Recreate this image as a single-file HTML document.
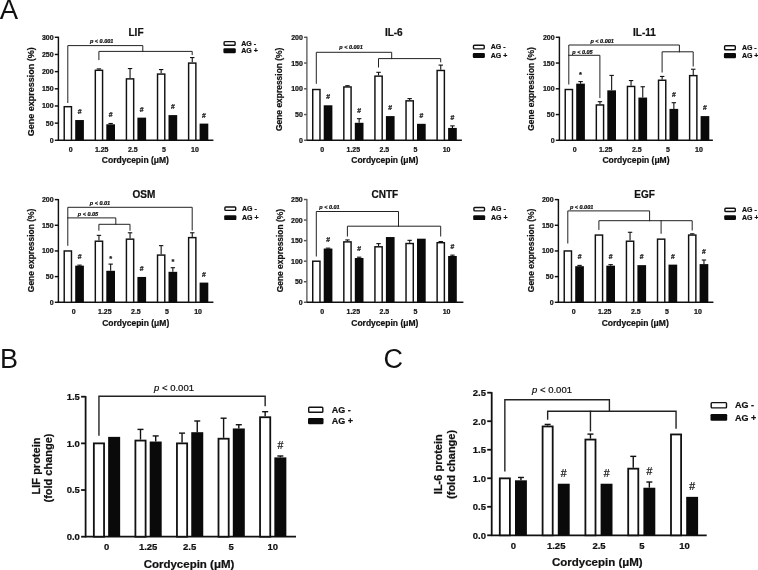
<!DOCTYPE html>
<html><head><meta charset="utf-8"><style>
html,body{margin:0;padding:0;background:#fff;}
body{width:758px;height:570px;overflow:hidden;}
svg{display:block;font-family:"Liberation Sans", sans-serif;will-change:transform;}
text{stroke:#111;stroke-width:0.22px;}
text.nos{stroke:none;}
</style></head><body>
<svg width="758" height="570" viewBox="0 0 758 570">
<rect width="758" height="570" fill="#fff"/>
<line x1="58.4" y1="36.7" x2="58.4" y2="140.9" stroke="#111" stroke-width="1.45"/>
<line x1="57.8" y1="140.3" x2="213.4" y2="140.3" stroke="#111" stroke-width="1.45"/>
<line x1="54.8" y1="140.3" x2="58.4" y2="140.3" stroke="#111" stroke-width="1.45"/>
<text x="53.6" y="142.82" font-size="7" font-weight="bold" text-anchor="end" fill="#111">0</text>
<line x1="54.8" y1="123.13" x2="58.4" y2="123.13" stroke="#111" stroke-width="1.45"/>
<text x="53.6" y="125.65" font-size="7" font-weight="bold" text-anchor="end" fill="#111">50</text>
<line x1="54.8" y1="105.97" x2="58.4" y2="105.97" stroke="#111" stroke-width="1.45"/>
<text x="53.6" y="108.49" font-size="7" font-weight="bold" text-anchor="end" fill="#111">100</text>
<line x1="54.8" y1="88.8" x2="58.4" y2="88.8" stroke="#111" stroke-width="1.45"/>
<text x="53.6" y="91.32" font-size="7" font-weight="bold" text-anchor="end" fill="#111">150</text>
<line x1="54.8" y1="71.63" x2="58.4" y2="71.63" stroke="#111" stroke-width="1.45"/>
<text x="53.6" y="74.15" font-size="7" font-weight="bold" text-anchor="end" fill="#111">200</text>
<line x1="54.8" y1="54.47" x2="58.4" y2="54.47" stroke="#111" stroke-width="1.45"/>
<text x="53.6" y="56.99" font-size="7" font-weight="bold" text-anchor="end" fill="#111">250</text>
<line x1="54.8" y1="37.3" x2="58.4" y2="37.3" stroke="#111" stroke-width="1.45"/>
<text x="53.6" y="39.82" font-size="7" font-weight="bold" text-anchor="end" fill="#111">300</text>
<rect x="64.22" y="106.69" width="7.25" height="33.61" fill="#fff" stroke="#111" stroke-width="1.45"/>
<rect x="75.2" y="120.04" width="8.7" height="20.26" fill="#0a0a0a"/>
<text x="79.55" y="114.04" font-size="6.8" font-weight="bold" text-anchor="middle" fill="#111">#</text>
<text x="70.6" y="152" font-size="7" font-weight="bold" text-anchor="middle" fill="#111">0</text>
<rect x="95.32" y="70.3" width="7.25" height="70" fill="#fff" stroke="#111" stroke-width="1.45"/>
<line x1="98.95" y1="68.89" x2="98.95" y2="69.57" stroke="#111" stroke-width="1.1"/>
<line x1="96.75" y1="68.89" x2="101.15" y2="68.89" stroke="#111" stroke-width="1.1"/>
<rect x="106.3" y="124.3" width="8.7" height="16" fill="#0a0a0a"/>
<line x1="110.65" y1="123.48" x2="110.65" y2="124.3" stroke="#111" stroke-width="1.1"/>
<line x1="108.45" y1="123.48" x2="112.85" y2="123.48" stroke="#111" stroke-width="1.1"/>
<text x="110.65" y="117.48" font-size="6.8" font-weight="bold" text-anchor="middle" fill="#111">#</text>
<text x="101.7" y="152" font-size="7" font-weight="bold" text-anchor="middle" fill="#111">1.25</text>
<rect x="126.42" y="78.88" width="7.25" height="61.42" fill="#fff" stroke="#111" stroke-width="1.45"/>
<line x1="130.05" y1="68.54" x2="130.05" y2="78.16" stroke="#111" stroke-width="1.1"/>
<line x1="127.85" y1="68.54" x2="132.25" y2="68.54" stroke="#111" stroke-width="1.1"/>
<rect x="137.4" y="117.64" width="8.7" height="22.66" fill="#0a0a0a"/>
<text x="141.75" y="111.64" font-size="6.8" font-weight="bold" text-anchor="middle" fill="#111">#</text>
<text x="132.8" y="152" font-size="7" font-weight="bold" text-anchor="middle" fill="#111">2.5</text>
<rect x="157.53" y="74.08" width="7.25" height="66.23" fill="#fff" stroke="#111" stroke-width="1.45"/>
<line x1="161.15" y1="69.57" x2="161.15" y2="73.35" stroke="#111" stroke-width="1.1"/>
<line x1="158.95" y1="69.57" x2="163.35" y2="69.57" stroke="#111" stroke-width="1.1"/>
<rect x="168.5" y="115.1" width="8.7" height="25.2" fill="#0a0a0a"/>
<text x="172.85" y="109.1" font-size="6.8" font-weight="bold" text-anchor="middle" fill="#111">#</text>
<text x="163.9" y="152" font-size="7" font-weight="bold" text-anchor="middle" fill="#111">5</text>
<rect x="188.62" y="63.09" width="7.25" height="77.21" fill="#fff" stroke="#111" stroke-width="1.45"/>
<line x1="192.25" y1="57.56" x2="192.25" y2="62.36" stroke="#111" stroke-width="1.1"/>
<line x1="190.05" y1="57.56" x2="194.45" y2="57.56" stroke="#111" stroke-width="1.1"/>
<rect x="199.6" y="123.61" width="8.7" height="16.69" fill="#0a0a0a"/>
<text x="203.95" y="117.61" font-size="6.8" font-weight="bold" text-anchor="middle" fill="#111">#</text>
<text x="195" y="152" font-size="7" font-weight="bold" text-anchor="middle" fill="#111">10</text>
<polyline points="67.8,102.5 67.8,45.6 142.8,45.6 142.8,51.4" fill="none" stroke="#222" stroke-width="1.0" stroke-linejoin="miter" stroke-linecap="square"/>
<polyline points="98.9,59.6 98.9,51.4 192.2,51.4 192.2,54.6" fill="none" stroke="#222" stroke-width="1.0" stroke-linejoin="miter" stroke-linecap="square"/>
<text x="101.7" y="42.6" font-size="5.5" font-weight="bold" font-style="italic" text-anchor="middle" fill="#111">p &lt; 0.001</text>
<text x="136" y="36.1" font-size="10" font-weight="bold" text-anchor="middle" fill="#111">LIF</text>
<text x="135.4" y="163.2" font-size="8.5" font-weight="bold" text-anchor="middle" fill="#111">Cordycepin (μM)</text>
<text x="34" y="91.8" font-size="9" font-weight="bold" text-anchor="middle" fill="#111" transform="rotate(-90 34 91.8)">Gene expression (%)</text>
<rect x="224.1" y="41.6" width="11" height="3.6" rx="0.8" fill="#fff" stroke="#111" stroke-width="1.4"/>
<rect x="223.4" y="48.3" width="12.4" height="5" rx="1.2" fill="#0a0a0a"/>
<text x="241.3" y="45.7" font-size="7" font-weight="bold" text-anchor="start" fill="#111">AG -</text>
<text x="241.3" y="53.1" font-size="7" font-weight="bold" text-anchor="start" fill="#111">AG +</text>
<line x1="306.9" y1="36.7" x2="306.9" y2="140.9" stroke="#555" stroke-width="1.3"/>
<line x1="306.3" y1="140.3" x2="461.9" y2="140.3" stroke="#111" stroke-width="1.45"/>
<line x1="304.1" y1="140.3" x2="306.9" y2="140.3" stroke="#555" stroke-width="1.45"/>
<text x="302.9" y="142.82" font-size="7" font-weight="bold" text-anchor="end" fill="#111">0</text>
<line x1="304.1" y1="114.55" x2="306.9" y2="114.55" stroke="#555" stroke-width="1.45"/>
<text x="302.9" y="117.07" font-size="7" font-weight="bold" text-anchor="end" fill="#111">50</text>
<line x1="304.1" y1="88.8" x2="306.9" y2="88.8" stroke="#555" stroke-width="1.45"/>
<text x="302.9" y="91.32" font-size="7" font-weight="bold" text-anchor="end" fill="#111">100</text>
<line x1="304.1" y1="63.05" x2="306.9" y2="63.05" stroke="#555" stroke-width="1.45"/>
<text x="302.9" y="65.57" font-size="7" font-weight="bold" text-anchor="end" fill="#111">150</text>
<line x1="304.1" y1="37.3" x2="306.9" y2="37.3" stroke="#555" stroke-width="1.45"/>
<text x="302.9" y="39.82" font-size="7" font-weight="bold" text-anchor="end" fill="#111">200</text>
<rect x="312.73" y="89.52" width="7.25" height="50.78" fill="#fff" stroke="#111" stroke-width="1.45"/>
<rect x="323.7" y="105.28" width="8.7" height="35.02" fill="#0a0a0a"/>
<text x="328.05" y="99.28" font-size="6.8" font-weight="bold" text-anchor="middle" fill="#111">#</text>
<text x="322.2" y="152" font-size="7" font-weight="bold" text-anchor="middle" fill="#111">0</text>
<rect x="343.83" y="86.95" width="7.25" height="53.35" fill="#fff" stroke="#111" stroke-width="1.45"/>
<line x1="347.45" y1="85.71" x2="347.45" y2="86.22" stroke="#111" stroke-width="1.1"/>
<line x1="345.25" y1="85.71" x2="349.65" y2="85.71" stroke="#111" stroke-width="1.1"/>
<rect x="354.8" y="122.79" width="8.7" height="17.51" fill="#0a0a0a"/>
<line x1="359.15" y1="118.67" x2="359.15" y2="122.79" stroke="#111" stroke-width="1.1"/>
<line x1="356.95" y1="118.67" x2="361.35" y2="118.67" stroke="#111" stroke-width="1.1"/>
<text x="359.15" y="112.67" font-size="6.8" font-weight="bold" text-anchor="middle" fill="#111">#</text>
<text x="353.3" y="152" font-size="7" font-weight="bold" text-anchor="middle" fill="#111">1.25</text>
<rect x="374.93" y="76.13" width="7.25" height="64.17" fill="#fff" stroke="#111" stroke-width="1.45"/>
<line x1="378.55" y1="72.32" x2="378.55" y2="75.41" stroke="#111" stroke-width="1.1"/>
<line x1="376.35" y1="72.32" x2="380.75" y2="72.32" stroke="#111" stroke-width="1.1"/>
<rect x="385.9" y="116.09" width="8.7" height="24.21" fill="#0a0a0a"/>
<text x="390.25" y="110.09" font-size="6.8" font-weight="bold" text-anchor="middle" fill="#111">#</text>
<text x="384.4" y="152" font-size="7" font-weight="bold" text-anchor="middle" fill="#111">2.5</text>
<rect x="406.03" y="100.85" width="7.25" height="39.45" fill="#fff" stroke="#111" stroke-width="1.45"/>
<line x1="409.65" y1="98.59" x2="409.65" y2="100.13" stroke="#111" stroke-width="1.1"/>
<line x1="407.45" y1="98.59" x2="411.85" y2="98.59" stroke="#111" stroke-width="1.1"/>
<rect x="417" y="123.82" width="8.7" height="16.48" fill="#0a0a0a"/>
<text x="421.35" y="117.82" font-size="6.8" font-weight="bold" text-anchor="middle" fill="#111">#</text>
<text x="415.5" y="152" font-size="7" font-weight="bold" text-anchor="middle" fill="#111">5</text>
<rect x="437.12" y="70.47" width="7.25" height="69.83" fill="#fff" stroke="#111" stroke-width="1.45"/>
<line x1="440.75" y1="65.11" x2="440.75" y2="69.74" stroke="#111" stroke-width="1.1"/>
<line x1="438.55" y1="65.11" x2="442.95" y2="65.11" stroke="#111" stroke-width="1.1"/>
<rect x="448.1" y="127.94" width="8.7" height="12.36" fill="#0a0a0a"/>
<line x1="452.45" y1="125.88" x2="452.45" y2="127.94" stroke="#111" stroke-width="1.1"/>
<line x1="450.25" y1="125.88" x2="454.65" y2="125.88" stroke="#111" stroke-width="1.1"/>
<text x="452.45" y="119.88" font-size="6.8" font-weight="bold" text-anchor="middle" fill="#111">#</text>
<text x="446.6" y="152" font-size="7" font-weight="bold" text-anchor="middle" fill="#111">10</text>
<polyline points="316.3,83.3 316.3,52.3 391.7,52.3 391.7,58.6" fill="none" stroke="#222" stroke-width="1.0" stroke-linejoin="miter" stroke-linecap="square"/>
<polyline points="378.5,67 378.5,58.6 440.7,58.6 440.7,61.8" fill="none" stroke="#222" stroke-width="1.0" stroke-linejoin="miter" stroke-linecap="square"/>
<text x="351" y="49.3" font-size="5.5" font-weight="bold" font-style="italic" text-anchor="middle" fill="#111">p &lt; 0.001</text>
<text x="393.8" y="36.1" font-size="10" font-weight="bold" text-anchor="middle" fill="#111">IL-6</text>
<text x="384.8" y="163.2" font-size="8.5" font-weight="bold" text-anchor="middle" fill="#111">Cordycepin (μM)</text>
<text x="281.7" y="89.3" font-size="8.45" font-weight="bold" text-anchor="middle" fill="#111" transform="rotate(-90 281.7 89.3)">Gene expression (%)</text>
<rect x="473.5" y="45.2" width="10.7" height="3.7" rx="0.8" fill="#fff" stroke="#111" stroke-width="1.4"/>
<rect x="472.8" y="52.9" width="12.1" height="5.1" rx="1.2" fill="#0a0a0a"/>
<text x="490.7" y="49.4" font-size="7" font-weight="bold" text-anchor="start" fill="#111">AG -</text>
<text x="490.7" y="57.8" font-size="7" font-weight="bold" text-anchor="start" fill="#111">AG +</text>
<line x1="559.4" y1="36.7" x2="559.4" y2="140.9" stroke="#111" stroke-width="1.45"/>
<line x1="558.8" y1="140.3" x2="712.9" y2="140.3" stroke="#111" stroke-width="1.45"/>
<line x1="555.8" y1="140.3" x2="559.4" y2="140.3" stroke="#111" stroke-width="1.45"/>
<text x="554.6" y="142.82" font-size="7" font-weight="bold" text-anchor="end" fill="#111">0</text>
<line x1="555.8" y1="114.55" x2="559.4" y2="114.55" stroke="#111" stroke-width="1.45"/>
<text x="554.6" y="117.07" font-size="7" font-weight="bold" text-anchor="end" fill="#111">50</text>
<line x1="555.8" y1="88.8" x2="559.4" y2="88.8" stroke="#111" stroke-width="1.45"/>
<text x="554.6" y="91.32" font-size="7" font-weight="bold" text-anchor="end" fill="#111">100</text>
<line x1="555.8" y1="63.05" x2="559.4" y2="63.05" stroke="#111" stroke-width="1.45"/>
<text x="554.6" y="65.57" font-size="7" font-weight="bold" text-anchor="end" fill="#111">150</text>
<line x1="555.8" y1="37.3" x2="559.4" y2="37.3" stroke="#111" stroke-width="1.45"/>
<text x="554.6" y="39.82" font-size="7" font-weight="bold" text-anchor="end" fill="#111">200</text>
<rect x="565.23" y="89.52" width="7.25" height="50.78" fill="#fff" stroke="#111" stroke-width="1.45"/>
<rect x="576.2" y="83.65" width="8.7" height="56.65" fill="#0a0a0a"/>
<line x1="580.55" y1="81.59" x2="580.55" y2="83.65" stroke="#111" stroke-width="1.1"/>
<line x1="578.35" y1="81.59" x2="582.75" y2="81.59" stroke="#111" stroke-width="1.1"/>
<text x="580.55" y="77.09" font-size="7.5" font-weight="bold" text-anchor="middle" fill="#111">*</text>
<text x="574.6" y="152" font-size="7" font-weight="bold" text-anchor="middle" fill="#111">0</text>
<rect x="596.33" y="104.97" width="7.25" height="35.33" fill="#fff" stroke="#111" stroke-width="1.45"/>
<line x1="599.95" y1="101.68" x2="599.95" y2="104.25" stroke="#111" stroke-width="1.1"/>
<line x1="597.75" y1="101.68" x2="602.15" y2="101.68" stroke="#111" stroke-width="1.1"/>
<rect x="607.3" y="90.34" width="8.7" height="49.96" fill="#0a0a0a"/>
<line x1="611.65" y1="75.41" x2="611.65" y2="90.34" stroke="#111" stroke-width="1.1"/>
<line x1="609.45" y1="75.41" x2="613.85" y2="75.41" stroke="#111" stroke-width="1.1"/>
<text x="605.7" y="152" font-size="7" font-weight="bold" text-anchor="middle" fill="#111">1.25</text>
<rect x="627.43" y="86.44" width="7.25" height="53.87" fill="#fff" stroke="#111" stroke-width="1.45"/>
<line x1="631.05" y1="80.56" x2="631.05" y2="85.71" stroke="#111" stroke-width="1.1"/>
<line x1="628.85" y1="80.56" x2="633.25" y2="80.56" stroke="#111" stroke-width="1.1"/>
<rect x="638.4" y="97.56" width="8.7" height="42.75" fill="#0a0a0a"/>
<line x1="642.75" y1="86.74" x2="642.75" y2="97.56" stroke="#111" stroke-width="1.1"/>
<line x1="640.55" y1="86.74" x2="644.95" y2="86.74" stroke="#111" stroke-width="1.1"/>
<text x="636.8" y="152" font-size="7" font-weight="bold" text-anchor="middle" fill="#111">2.5</text>
<rect x="658.52" y="80.25" width="7.25" height="60.05" fill="#fff" stroke="#111" stroke-width="1.45"/>
<line x1="662.15" y1="76.44" x2="662.15" y2="79.53" stroke="#111" stroke-width="1.1"/>
<line x1="659.95" y1="76.44" x2="664.35" y2="76.44" stroke="#111" stroke-width="1.1"/>
<rect x="669.5" y="108.89" width="8.7" height="31.42" fill="#0a0a0a"/>
<line x1="673.85" y1="102.71" x2="673.85" y2="108.89" stroke="#111" stroke-width="1.1"/>
<line x1="671.65" y1="102.71" x2="676.05" y2="102.71" stroke="#111" stroke-width="1.1"/>
<text x="673.85" y="96.71" font-size="6.8" font-weight="bold" text-anchor="middle" fill="#111">#</text>
<text x="667.9" y="152" font-size="7" font-weight="bold" text-anchor="middle" fill="#111">5</text>
<rect x="689.62" y="75.62" width="7.25" height="64.68" fill="#fff" stroke="#111" stroke-width="1.45"/>
<line x1="693.25" y1="69.23" x2="693.25" y2="74.89" stroke="#111" stroke-width="1.1"/>
<line x1="691.05" y1="69.23" x2="695.45" y2="69.23" stroke="#111" stroke-width="1.1"/>
<rect x="700.6" y="116.09" width="8.7" height="24.21" fill="#0a0a0a"/>
<text x="704.95" y="110.09" font-size="6.8" font-weight="bold" text-anchor="middle" fill="#111">#</text>
<text x="699" y="152" font-size="7" font-weight="bold" text-anchor="middle" fill="#111">10</text>
<polyline points="568.8,84 568.8,45 679.4,45 679.4,51.8" fill="none" stroke="#222" stroke-width="1.0" stroke-linejoin="miter" stroke-linecap="square"/>
<polyline points="662.1,72 662.1,51.8 693.2,51.8 693.2,66" fill="none" stroke="#222" stroke-width="1.0" stroke-linejoin="miter" stroke-linecap="square"/>
<polyline points="568.8,55.3 599.9,55.3 599.9,97.6" fill="none" stroke="#222" stroke-width="1.0" stroke-linejoin="miter" stroke-linecap="square"/>
<text x="602.2" y="43.3" font-size="5.5" font-weight="bold" font-style="italic" text-anchor="middle" fill="#111">p &lt; 0.001</text>
<text x="582.5" y="53.6" font-size="5.5" font-weight="bold" font-style="italic" text-anchor="middle" fill="#111">p &lt; 0.05</text>
<text x="644.5" y="36.1" font-size="10" font-weight="bold" text-anchor="middle" fill="#111">IL-11</text>
<text x="636" y="163.2" font-size="8.5" font-weight="bold" text-anchor="middle" fill="#111">Cordycepin (μM)</text>
<text x="534" y="89" font-size="8.45" font-weight="bold" text-anchor="middle" fill="#111" transform="rotate(-90 534 89)">Gene expression (%)</text>
<rect x="724.6" y="45.8" width="10.7" height="3.9" rx="0.8" fill="#fff" stroke="#111" stroke-width="1.4"/>
<rect x="723.9" y="52.9" width="12.1" height="5.3" rx="1.2" fill="#0a0a0a"/>
<text x="741.9" y="50.2" font-size="7" font-weight="bold" text-anchor="start" fill="#111">AG -</text>
<text x="741.9" y="58" font-size="7" font-weight="bold" text-anchor="start" fill="#111">AG +</text>
<line x1="58.4" y1="199" x2="58.4" y2="302.9" stroke="#111" stroke-width="1.45"/>
<line x1="57.8" y1="302.3" x2="213.4" y2="302.3" stroke="#111" stroke-width="1.45"/>
<line x1="54.8" y1="302.3" x2="58.4" y2="302.3" stroke="#111" stroke-width="1.45"/>
<text x="53.6" y="304.82" font-size="7" font-weight="bold" text-anchor="end" fill="#111">0</text>
<line x1="54.8" y1="276.62" x2="58.4" y2="276.62" stroke="#111" stroke-width="1.45"/>
<text x="53.6" y="279.14" font-size="7" font-weight="bold" text-anchor="end" fill="#111">50</text>
<line x1="54.8" y1="250.95" x2="58.4" y2="250.95" stroke="#111" stroke-width="1.45"/>
<text x="53.6" y="253.47" font-size="7" font-weight="bold" text-anchor="end" fill="#111">100</text>
<line x1="54.8" y1="225.28" x2="58.4" y2="225.28" stroke="#111" stroke-width="1.45"/>
<text x="53.6" y="227.8" font-size="7" font-weight="bold" text-anchor="end" fill="#111">150</text>
<line x1="54.8" y1="199.6" x2="58.4" y2="199.6" stroke="#111" stroke-width="1.45"/>
<text x="53.6" y="202.12" font-size="7" font-weight="bold" text-anchor="end" fill="#111">200</text>
<rect x="64.22" y="250.97" width="7.25" height="51.33" fill="#fff" stroke="#111" stroke-width="1.45"/>
<rect x="75.2" y="265.66" width="8.7" height="36.64" fill="#0a0a0a"/>
<line x1="79.55" y1="265.14" x2="79.55" y2="265.66" stroke="#111" stroke-width="1.1"/>
<line x1="77.35" y1="265.14" x2="81.75" y2="265.14" stroke="#111" stroke-width="1.1"/>
<text x="79.55" y="259.14" font-size="6.8" font-weight="bold" text-anchor="middle" fill="#111">#</text>
<text x="73.7" y="313.5" font-size="7" font-weight="bold" text-anchor="middle" fill="#111">0</text>
<rect x="95.32" y="241.22" width="7.25" height="61.08" fill="#fff" stroke="#111" stroke-width="1.45"/>
<line x1="98.95" y1="235.36" x2="98.95" y2="240.49" stroke="#111" stroke-width="1.1"/>
<line x1="96.75" y1="235.36" x2="101.15" y2="235.36" stroke="#111" stroke-width="1.1"/>
<rect x="106.3" y="270.79" width="8.7" height="31.51" fill="#0a0a0a"/>
<line x1="110.65" y1="264.11" x2="110.65" y2="270.79" stroke="#111" stroke-width="1.1"/>
<line x1="108.45" y1="264.11" x2="112.85" y2="264.11" stroke="#111" stroke-width="1.1"/>
<text x="110.65" y="260.61" font-size="7.5" font-weight="bold" text-anchor="middle" fill="#111">*</text>
<text x="104.8" y="313.5" font-size="7" font-weight="bold" text-anchor="middle" fill="#111">1.25</text>
<rect x="126.42" y="239.16" width="7.25" height="63.14" fill="#fff" stroke="#111" stroke-width="1.45"/>
<line x1="130.05" y1="232.79" x2="130.05" y2="238.44" stroke="#111" stroke-width="1.1"/>
<line x1="127.85" y1="232.79" x2="132.25" y2="232.79" stroke="#111" stroke-width="1.1"/>
<rect x="137.4" y="276.95" width="8.7" height="25.35" fill="#0a0a0a"/>
<text x="141.75" y="270.95" font-size="6.8" font-weight="bold" text-anchor="middle" fill="#111">#</text>
<text x="135.9" y="313.5" font-size="7" font-weight="bold" text-anchor="middle" fill="#111">2.5</text>
<rect x="157.53" y="255.08" width="7.25" height="47.22" fill="#fff" stroke="#111" stroke-width="1.45"/>
<line x1="161.15" y1="245.63" x2="161.15" y2="254.36" stroke="#111" stroke-width="1.1"/>
<line x1="158.95" y1="245.63" x2="163.35" y2="245.63" stroke="#111" stroke-width="1.1"/>
<rect x="168.5" y="271.82" width="8.7" height="30.48" fill="#0a0a0a"/>
<line x1="172.85" y1="267.71" x2="172.85" y2="271.82" stroke="#111" stroke-width="1.1"/>
<line x1="170.65" y1="267.71" x2="175.05" y2="267.71" stroke="#111" stroke-width="1.1"/>
<text x="172.85" y="264.21" font-size="7.5" font-weight="bold" text-anchor="middle" fill="#111">*</text>
<text x="167" y="313.5" font-size="7" font-weight="bold" text-anchor="middle" fill="#111">5</text>
<rect x="188.62" y="237.62" width="7.25" height="64.68" fill="#fff" stroke="#111" stroke-width="1.45"/>
<line x1="192.25" y1="232.79" x2="192.25" y2="236.9" stroke="#111" stroke-width="1.1"/>
<line x1="190.05" y1="232.79" x2="194.45" y2="232.79" stroke="#111" stroke-width="1.1"/>
<rect x="199.6" y="282.6" width="8.7" height="19.7" fill="#0a0a0a"/>
<text x="203.95" y="276.6" font-size="6.8" font-weight="bold" text-anchor="middle" fill="#111">#</text>
<text x="198.1" y="313.5" font-size="7" font-weight="bold" text-anchor="middle" fill="#111">10</text>
<polyline points="67.8,245.3 67.8,207.3 192.2,207.3 192.2,230" fill="none" stroke="#222" stroke-width="1.0" stroke-linejoin="miter" stroke-linecap="square"/>
<polyline points="67.8,217.9 115.8,217.9 115.8,224.3" fill="none" stroke="#222" stroke-width="1.0" stroke-linejoin="miter" stroke-linecap="square"/>
<polyline points="98.9,230.2 98.9,224.3 130,224.3 130,230.2" fill="none" stroke="#222" stroke-width="1.0" stroke-linejoin="miter" stroke-linecap="square"/>
<text x="100" y="204.5" font-size="5.5" font-weight="bold" font-style="italic" text-anchor="middle" fill="#111">p &lt; 0.01</text>
<text x="88" y="216.2" font-size="5.5" font-weight="bold" font-style="italic" text-anchor="middle" fill="#111">p &lt; 0.05</text>
<text x="143.9" y="198" font-size="10" font-weight="bold" text-anchor="middle" fill="#111">OSM</text>
<text x="135.7" y="325.5" font-size="8.5" font-weight="bold" text-anchor="middle" fill="#111">Cordycepin (μM)</text>
<text x="34.2" y="250.4" font-size="8.45" font-weight="bold" text-anchor="middle" fill="#111" transform="rotate(-90 34.2 250.4)">Gene expression (%)</text>
<rect x="224.9" y="207" width="10.8" height="3.4" rx="0.8" fill="#fff" stroke="#111" stroke-width="1.4"/>
<rect x="224.2" y="215.3" width="12.2" height="4.8" rx="1.2" fill="#0a0a0a"/>
<text x="242" y="210.9" font-size="7" font-weight="bold" text-anchor="start" fill="#111">AG -</text>
<text x="242" y="219.9" font-size="7" font-weight="bold" text-anchor="start" fill="#111">AG +</text>
<line x1="306.9" y1="198.9" x2="306.9" y2="302.9" stroke="#555" stroke-width="1.3"/>
<line x1="306.3" y1="302.3" x2="463.4" y2="302.3" stroke="#111" stroke-width="1.45"/>
<line x1="303.9" y1="302.3" x2="306.9" y2="302.3" stroke="#555" stroke-width="1.45"/>
<text x="302.7" y="304.82" font-size="7" font-weight="bold" text-anchor="end" fill="#111">0</text>
<line x1="303.9" y1="281.74" x2="306.9" y2="281.74" stroke="#555" stroke-width="1.45"/>
<text x="302.7" y="284.26" font-size="7" font-weight="bold" text-anchor="end" fill="#111">50</text>
<line x1="303.9" y1="261.18" x2="306.9" y2="261.18" stroke="#555" stroke-width="1.45"/>
<text x="302.7" y="263.7" font-size="7" font-weight="bold" text-anchor="end" fill="#111">100</text>
<line x1="303.9" y1="240.62" x2="306.9" y2="240.62" stroke="#555" stroke-width="1.45"/>
<text x="302.7" y="243.14" font-size="7" font-weight="bold" text-anchor="end" fill="#111">150</text>
<line x1="303.9" y1="220.06" x2="306.9" y2="220.06" stroke="#555" stroke-width="1.45"/>
<text x="302.7" y="222.58" font-size="7" font-weight="bold" text-anchor="end" fill="#111">200</text>
<line x1="303.9" y1="199.5" x2="306.9" y2="199.5" stroke="#555" stroke-width="1.45"/>
<text x="302.7" y="202.02" font-size="7" font-weight="bold" text-anchor="end" fill="#111">250</text>
<rect x="312.73" y="261.21" width="7.25" height="41.09" fill="#fff" stroke="#111" stroke-width="1.45"/>
<rect x="323.7" y="248.56" width="8.7" height="53.74" fill="#0a0a0a"/>
<line x1="328.05" y1="248.14" x2="328.05" y2="248.56" stroke="#111" stroke-width="1.1"/>
<line x1="325.85" y1="248.14" x2="330.25" y2="248.14" stroke="#111" stroke-width="1.1"/>
<text x="328.05" y="242.14" font-size="6.8" font-weight="bold" text-anchor="middle" fill="#111">#</text>
<text x="322.2" y="313.5" font-size="7" font-weight="bold" text-anchor="middle" fill="#111">0</text>
<rect x="343.83" y="241.88" width="7.25" height="60.42" fill="#fff" stroke="#111" stroke-width="1.45"/>
<line x1="347.45" y1="239.92" x2="347.45" y2="241.15" stroke="#111" stroke-width="1.1"/>
<line x1="345.25" y1="239.92" x2="349.65" y2="239.92" stroke="#111" stroke-width="1.1"/>
<rect x="354.8" y="258.01" width="8.7" height="44.29" fill="#0a0a0a"/>
<line x1="359.15" y1="257.19" x2="359.15" y2="258.01" stroke="#111" stroke-width="1.1"/>
<line x1="356.95" y1="257.19" x2="361.35" y2="257.19" stroke="#111" stroke-width="1.1"/>
<text x="359.15" y="251.19" font-size="6.8" font-weight="bold" text-anchor="middle" fill="#111">#</text>
<text x="353.3" y="313.5" font-size="7" font-weight="bold" text-anchor="middle" fill="#111">1.25</text>
<rect x="374.93" y="246.81" width="7.25" height="55.49" fill="#fff" stroke="#111" stroke-width="1.45"/>
<line x1="378.55" y1="243.62" x2="378.55" y2="246.09" stroke="#111" stroke-width="1.1"/>
<line x1="376.35" y1="243.62" x2="380.75" y2="243.62" stroke="#111" stroke-width="1.1"/>
<rect x="385.9" y="237.04" width="8.7" height="65.26" fill="#0a0a0a"/>
<text x="384.4" y="313.5" font-size="7" font-weight="bold" text-anchor="middle" fill="#111">2.5</text>
<rect x="406.03" y="243.52" width="7.25" height="58.78" fill="#fff" stroke="#111" stroke-width="1.45"/>
<line x1="409.65" y1="240.33" x2="409.65" y2="242.8" stroke="#111" stroke-width="1.1"/>
<line x1="407.45" y1="240.33" x2="411.85" y2="240.33" stroke="#111" stroke-width="1.1"/>
<rect x="417" y="238.69" width="8.7" height="63.61" fill="#0a0a0a"/>
<text x="415.5" y="313.5" font-size="7" font-weight="bold" text-anchor="middle" fill="#111">5</text>
<rect x="437.12" y="242.7" width="7.25" height="59.6" fill="#fff" stroke="#111" stroke-width="1.45"/>
<line x1="440.75" y1="241.56" x2="440.75" y2="241.98" stroke="#111" stroke-width="1.1"/>
<line x1="438.55" y1="241.56" x2="442.95" y2="241.56" stroke="#111" stroke-width="1.1"/>
<rect x="448.1" y="255.96" width="8.7" height="46.34" fill="#0a0a0a"/>
<line x1="452.45" y1="255.13" x2="452.45" y2="255.96" stroke="#111" stroke-width="1.1"/>
<line x1="450.25" y1="255.13" x2="454.65" y2="255.13" stroke="#111" stroke-width="1.1"/>
<text x="452.45" y="249.13" font-size="6.8" font-weight="bold" text-anchor="middle" fill="#111">#</text>
<text x="446.6" y="313.5" font-size="7" font-weight="bold" text-anchor="middle" fill="#111">10</text>
<polyline points="316.3,256 316.3,211.5 398.5,211.5 398.5,226.2" fill="none" stroke="#222" stroke-width="1.0" stroke-linejoin="miter" stroke-linecap="square"/>
<polyline points="347.4,236 347.4,226.2 440.7,226.2 440.7,236" fill="none" stroke="#222" stroke-width="1.0" stroke-linejoin="miter" stroke-linecap="square"/>
<text x="329.5" y="208.5" font-size="5.5" font-weight="bold" font-style="italic" text-anchor="middle" fill="#111">p &lt; 0.01</text>
<text x="384.9" y="198" font-size="10" font-weight="bold" text-anchor="middle" fill="#111">CNTF</text>
<text x="384.8" y="326" font-size="8.5" font-weight="bold" text-anchor="middle" fill="#111">Cordycepin (μM)</text>
<text x="283" y="250.6" font-size="8.45" font-weight="bold" text-anchor="middle" fill="#111" transform="rotate(-90 283 250.6)">Gene expression (%)</text>
<rect x="473.9" y="207.5" width="10.6" height="3.4" rx="0.8" fill="#fff" stroke="#111" stroke-width="1.4"/>
<rect x="473.2" y="215.3" width="12" height="4.8" rx="1.2" fill="#0a0a0a"/>
<text x="491" y="211.4" font-size="7" font-weight="bold" text-anchor="start" fill="#111">AG -</text>
<text x="491" y="219.9" font-size="7" font-weight="bold" text-anchor="start" fill="#111">AG +</text>
<line x1="558.4" y1="199" x2="558.4" y2="302.9" stroke="#111" stroke-width="1.45"/>
<line x1="557.8" y1="302.3" x2="713.4" y2="302.3" stroke="#111" stroke-width="1.45"/>
<line x1="554.8" y1="302.3" x2="558.4" y2="302.3" stroke="#111" stroke-width="1.45"/>
<text x="553.6" y="304.82" font-size="7" font-weight="bold" text-anchor="end" fill="#111">0</text>
<line x1="554.8" y1="276.62" x2="558.4" y2="276.62" stroke="#111" stroke-width="1.45"/>
<text x="553.6" y="279.14" font-size="7" font-weight="bold" text-anchor="end" fill="#111">50</text>
<line x1="554.8" y1="250.95" x2="558.4" y2="250.95" stroke="#111" stroke-width="1.45"/>
<text x="553.6" y="253.47" font-size="7" font-weight="bold" text-anchor="end" fill="#111">100</text>
<line x1="554.8" y1="225.28" x2="558.4" y2="225.28" stroke="#111" stroke-width="1.45"/>
<text x="553.6" y="227.8" font-size="7" font-weight="bold" text-anchor="end" fill="#111">150</text>
<line x1="554.8" y1="199.6" x2="558.4" y2="199.6" stroke="#111" stroke-width="1.45"/>
<text x="553.6" y="202.12" font-size="7" font-weight="bold" text-anchor="end" fill="#111">200</text>
<rect x="564.23" y="250.97" width="7.25" height="51.33" fill="#fff" stroke="#111" stroke-width="1.45"/>
<rect x="575.2" y="266.17" width="8.7" height="36.13" fill="#0a0a0a"/>
<line x1="579.55" y1="265.4" x2="579.55" y2="266.17" stroke="#111" stroke-width="1.1"/>
<line x1="577.35" y1="265.4" x2="581.75" y2="265.4" stroke="#111" stroke-width="1.1"/>
<text x="579.55" y="259.4" font-size="6.8" font-weight="bold" text-anchor="middle" fill="#111">#</text>
<text x="573.6" y="313.5" font-size="7" font-weight="bold" text-anchor="middle" fill="#111">0</text>
<rect x="595.33" y="235.06" width="7.25" height="67.24" fill="#fff" stroke="#111" stroke-width="1.45"/>
<rect x="606.3" y="265.66" width="8.7" height="36.64" fill="#0a0a0a"/>
<line x1="610.65" y1="264.63" x2="610.65" y2="265.66" stroke="#111" stroke-width="1.1"/>
<line x1="608.45" y1="264.63" x2="612.85" y2="264.63" stroke="#111" stroke-width="1.1"/>
<text x="610.65" y="258.63" font-size="6.8" font-weight="bold" text-anchor="middle" fill="#111">#</text>
<text x="604.7" y="313.5" font-size="7" font-weight="bold" text-anchor="middle" fill="#111">1.25</text>
<rect x="626.43" y="241.22" width="7.25" height="61.08" fill="#fff" stroke="#111" stroke-width="1.45"/>
<line x1="630.05" y1="232.28" x2="630.05" y2="240.49" stroke="#111" stroke-width="1.1"/>
<line x1="627.85" y1="232.28" x2="632.25" y2="232.28" stroke="#111" stroke-width="1.1"/>
<rect x="637.4" y="265.14" width="8.7" height="37.16" fill="#0a0a0a"/>
<text x="641.75" y="259.14" font-size="6.8" font-weight="bold" text-anchor="middle" fill="#111">#</text>
<text x="635.8" y="313.5" font-size="7" font-weight="bold" text-anchor="middle" fill="#111">2.5</text>
<rect x="657.52" y="239.16" width="7.25" height="63.14" fill="#fff" stroke="#111" stroke-width="1.45"/>
<rect x="668.5" y="264.63" width="8.7" height="37.67" fill="#0a0a0a"/>
<text x="672.85" y="258.63" font-size="6.8" font-weight="bold" text-anchor="middle" fill="#111">#</text>
<text x="666.9" y="313.5" font-size="7" font-weight="bold" text-anchor="middle" fill="#111">5</text>
<rect x="688.62" y="235.06" width="7.25" height="67.24" fill="#fff" stroke="#111" stroke-width="1.45"/>
<line x1="692.25" y1="233.82" x2="692.25" y2="234.33" stroke="#111" stroke-width="1.1"/>
<line x1="690.05" y1="233.82" x2="694.45" y2="233.82" stroke="#111" stroke-width="1.1"/>
<rect x="699.6" y="264.11" width="8.7" height="38.19" fill="#0a0a0a"/>
<line x1="703.95" y1="260.01" x2="703.95" y2="264.11" stroke="#111" stroke-width="1.1"/>
<line x1="701.75" y1="260.01" x2="706.15" y2="260.01" stroke="#111" stroke-width="1.1"/>
<text x="703.95" y="254.01" font-size="6.8" font-weight="bold" text-anchor="middle" fill="#111">#</text>
<text x="698" y="313.5" font-size="7" font-weight="bold" text-anchor="middle" fill="#111">10</text>
<polyline points="567.8,243 567.8,210.9 649.6,210.9 649.6,220.7" fill="none" stroke="#222" stroke-width="1.0" stroke-linejoin="miter" stroke-linecap="square"/>
<polyline points="598.9,229.4 598.9,220.7 692.2,220.7 692.2,230" fill="none" stroke="#222" stroke-width="1.0" stroke-linejoin="miter" stroke-linecap="square"/>
<polyline points="661.1,220.7 661.1,233.3" fill="none" stroke="#222" stroke-width="1.0" stroke-linejoin="miter" stroke-linecap="square"/>
<text x="581.6" y="208.5" font-size="5.5" font-weight="bold" font-style="italic" text-anchor="middle" fill="#111">p &lt; 0.001</text>
<text x="644.5" y="198" font-size="10" font-weight="bold" text-anchor="middle" fill="#111">EGF</text>
<text x="635.2" y="326" font-size="8.5" font-weight="bold" text-anchor="middle" fill="#111">Cordycepin (μM)</text>
<text x="534.2" y="250.4" font-size="8.45" font-weight="bold" text-anchor="middle" fill="#111" transform="rotate(-90 534.2 250.4)">Gene expression (%)</text>
<rect x="724.9" y="208.3" width="10.4" height="3.2" rx="0.8" fill="#fff" stroke="#111" stroke-width="1.4"/>
<rect x="724.2" y="215.3" width="11.8" height="4.6" rx="1.2" fill="#0a0a0a"/>
<text x="742" y="212" font-size="7" font-weight="bold" text-anchor="start" fill="#111">AG -</text>
<text x="742" y="219.7" font-size="7" font-weight="bold" text-anchor="start" fill="#111">AG +</text>
<line x1="85.6" y1="396.1" x2="85.6" y2="537.3" stroke="#111" stroke-width="1.8"/>
<line x1="85" y1="536.7" x2="296" y2="536.7" stroke="#111" stroke-width="1.8"/>
<line x1="81.1" y1="536.7" x2="85.6" y2="536.7" stroke="#111" stroke-width="1.8"/>
<text x="79.9" y="540.12" font-size="9.5" font-weight="bold" text-anchor="end" fill="#111">0.0</text>
<line x1="81.1" y1="490.03" x2="85.6" y2="490.03" stroke="#111" stroke-width="1.8"/>
<text x="79.9" y="493.45" font-size="9.5" font-weight="bold" text-anchor="end" fill="#111">0.5</text>
<line x1="81.1" y1="443.37" x2="85.6" y2="443.37" stroke="#111" stroke-width="1.8"/>
<text x="79.9" y="446.79" font-size="9.5" font-weight="bold" text-anchor="end" fill="#111">1.0</text>
<line x1="81.1" y1="396.7" x2="85.6" y2="396.7" stroke="#111" stroke-width="1.8"/>
<text x="79.9" y="400.12" font-size="9.5" font-weight="bold" text-anchor="end" fill="#111">1.5</text>
<rect x="93.85" y="443.37" width="10.2" height="93.33" fill="#fff" stroke="#111" stroke-width="1.8"/>
<rect x="108.15" y="436.87" width="12" height="99.83" fill="#0a0a0a"/>
<text x="106.6" y="550.2" font-size="9.5" font-weight="bold" text-anchor="middle" fill="#111">0</text>
<rect x="135.4" y="440.57" width="10.2" height="96.13" fill="#fff" stroke="#111" stroke-width="1.8"/>
<line x1="140.5" y1="429.4" x2="140.5" y2="439.67" stroke="#111" stroke-width="1.4"/>
<line x1="137.5" y1="429.4" x2="143.5" y2="429.4" stroke="#111" stroke-width="1.4"/>
<rect x="149.7" y="441.53" width="12" height="95.17" fill="#0a0a0a"/>
<line x1="155.7" y1="435.93" x2="155.7" y2="441.53" stroke="#111" stroke-width="1.4"/>
<line x1="152.7" y1="435.93" x2="158.7" y2="435.93" stroke="#111" stroke-width="1.4"/>
<text x="148.15" y="550.2" font-size="9.5" font-weight="bold" text-anchor="middle" fill="#111">1.25</text>
<rect x="176.95" y="443.37" width="10.2" height="93.33" fill="#fff" stroke="#111" stroke-width="1.8"/>
<line x1="182.05" y1="433.13" x2="182.05" y2="442.47" stroke="#111" stroke-width="1.4"/>
<line x1="179.05" y1="433.13" x2="185.05" y2="433.13" stroke="#111" stroke-width="1.4"/>
<rect x="191.25" y="432.2" width="12" height="104.5" fill="#0a0a0a"/>
<line x1="197.25" y1="421" x2="197.25" y2="432.2" stroke="#111" stroke-width="1.4"/>
<line x1="194.25" y1="421" x2="200.25" y2="421" stroke="#111" stroke-width="1.4"/>
<text x="189.7" y="550.2" font-size="9.5" font-weight="bold" text-anchor="middle" fill="#111">2.5</text>
<rect x="218.5" y="438.7" width="10.2" height="98" fill="#fff" stroke="#111" stroke-width="1.8"/>
<line x1="223.6" y1="418.2" x2="223.6" y2="437.8" stroke="#111" stroke-width="1.4"/>
<line x1="220.6" y1="418.2" x2="226.6" y2="418.2" stroke="#111" stroke-width="1.4"/>
<rect x="232.8" y="428.47" width="12" height="108.23" fill="#0a0a0a"/>
<line x1="238.8" y1="424.73" x2="238.8" y2="428.47" stroke="#111" stroke-width="1.4"/>
<line x1="235.8" y1="424.73" x2="241.8" y2="424.73" stroke="#111" stroke-width="1.4"/>
<text x="231.25" y="550.2" font-size="9.5" font-weight="bold" text-anchor="middle" fill="#111">5</text>
<rect x="260.05" y="417.23" width="10.2" height="119.47" fill="#fff" stroke="#111" stroke-width="1.8"/>
<line x1="265.15" y1="411.67" x2="265.15" y2="416.33" stroke="#111" stroke-width="1.4"/>
<line x1="262.15" y1="411.67" x2="268.15" y2="411.67" stroke="#111" stroke-width="1.4"/>
<rect x="274.35" y="457.4" width="12" height="79.3" fill="#0a0a0a"/>
<line x1="280.35" y1="456" x2="280.35" y2="457.4" stroke="#111" stroke-width="1.4"/>
<line x1="277.35" y1="456" x2="283.35" y2="456" stroke="#111" stroke-width="1.4"/>
<text x="280.35" y="449.4" font-size="10.5" font-weight="normal" text-anchor="middle" fill="#111">#</text>
<text x="272.8" y="550.2" font-size="9.5" font-weight="bold" text-anchor="middle" fill="#111">10</text>
<polyline points="98.95,435 98.95,396.3 265.15,396.3 265.15,405.6" fill="none" stroke="#222" stroke-width="1.4" stroke-linejoin="miter" stroke-linecap="square"/>
<text x="174" y="390.7" font-size="9.5" font-weight="normal" font-style="normal" text-anchor="middle" fill="#111"><tspan font-style="italic">p</tspan> &lt; 0.001</text>
<text x="189" y="567.5" font-size="11.5" font-weight="bold" text-anchor="middle" fill="#111">Cordycepin (μM)</text>
<text x="40.2" y="466" font-size="11" font-weight="bold" text-anchor="middle" fill="#111" transform="rotate(-90 40.2 466)">LIF protein</text>
<text x="52.3" y="468" font-size="11" font-weight="bold" text-anchor="middle" fill="#111" transform="rotate(-90 52.3 468)">(fold change)</text>
<rect x="308.7" y="407.3" width="14.1" height="4.9" rx="0.8" fill="#fff" stroke="#111" stroke-width="1.4"/>
<rect x="308" y="418" width="15.5" height="6.3" rx="1.2" fill="#0a0a0a"/>
<text x="331.8" y="412.7" font-size="9" font-weight="bold" text-anchor="start" fill="#111">AG -</text>
<text x="331.8" y="424.1" font-size="9" font-weight="bold" text-anchor="start" fill="#111">AG +</text>
<line x1="491.7" y1="392.1" x2="491.7" y2="535.9" stroke="#111" stroke-width="1.8"/>
<line x1="491.1" y1="535.3" x2="706.7" y2="535.3" stroke="#111" stroke-width="1.8"/>
<line x1="487.2" y1="535.3" x2="491.7" y2="535.3" stroke="#111" stroke-width="1.8"/>
<text x="486" y="538.72" font-size="9.5" font-weight="bold" text-anchor="end" fill="#111">0.0</text>
<line x1="487.2" y1="506.78" x2="491.7" y2="506.78" stroke="#111" stroke-width="1.8"/>
<text x="486" y="510.2" font-size="9.5" font-weight="bold" text-anchor="end" fill="#111">0.5</text>
<line x1="487.2" y1="478.26" x2="491.7" y2="478.26" stroke="#111" stroke-width="1.8"/>
<text x="486" y="481.68" font-size="9.5" font-weight="bold" text-anchor="end" fill="#111">1.0</text>
<line x1="487.2" y1="449.74" x2="491.7" y2="449.74" stroke="#111" stroke-width="1.8"/>
<text x="486" y="453.16" font-size="9.5" font-weight="bold" text-anchor="end" fill="#111">1.5</text>
<line x1="487.2" y1="421.22" x2="491.7" y2="421.22" stroke="#111" stroke-width="1.8"/>
<text x="486" y="424.64" font-size="9.5" font-weight="bold" text-anchor="end" fill="#111">2.0</text>
<line x1="487.2" y1="392.7" x2="491.7" y2="392.7" stroke="#111" stroke-width="1.8"/>
<text x="486" y="396.12" font-size="9.5" font-weight="bold" text-anchor="end" fill="#111">2.5</text>
<rect x="499.8" y="478.36" width="10.1" height="56.94" fill="#fff" stroke="#111" stroke-width="1.8"/>
<rect x="515" y="480.31" width="11.9" height="54.99" fill="#0a0a0a"/>
<line x1="520.95" y1="477.46" x2="520.95" y2="480.31" stroke="#111" stroke-width="1.4"/>
<line x1="517.95" y1="477.46" x2="523.95" y2="477.46" stroke="#111" stroke-width="1.4"/>
<text x="513.4" y="548.8" font-size="9.5" font-weight="bold" text-anchor="middle" fill="#111">0</text>
<rect x="542.6" y="426.45" width="10.1" height="108.85" fill="#fff" stroke="#111" stroke-width="1.8"/>
<line x1="547.65" y1="424.41" x2="547.65" y2="425.55" stroke="#111" stroke-width="1.4"/>
<line x1="544.65" y1="424.41" x2="550.65" y2="424.41" stroke="#111" stroke-width="1.4"/>
<rect x="557.8" y="483.73" width="11.9" height="51.57" fill="#0a0a0a"/>
<text x="563.75" y="476.93" font-size="10.5" font-weight="normal" text-anchor="middle" fill="#111">#</text>
<text x="556.2" y="548.8" font-size="9.5" font-weight="bold" text-anchor="middle" fill="#111">1.25</text>
<rect x="585.4" y="439.57" width="10.1" height="95.73" fill="#fff" stroke="#111" stroke-width="1.8"/>
<line x1="590.45" y1="434.11" x2="590.45" y2="438.67" stroke="#111" stroke-width="1.4"/>
<line x1="587.45" y1="434.11" x2="593.45" y2="434.11" stroke="#111" stroke-width="1.4"/>
<rect x="600.6" y="483.73" width="11.9" height="51.57" fill="#0a0a0a"/>
<text x="606.55" y="476.93" font-size="10.5" font-weight="normal" text-anchor="middle" fill="#111">#</text>
<text x="599" y="548.8" font-size="9.5" font-weight="bold" text-anchor="middle" fill="#111">2.5</text>
<rect x="628.2" y="468.66" width="10.1" height="66.64" fill="#fff" stroke="#111" stroke-width="1.8"/>
<line x1="633.25" y1="456.36" x2="633.25" y2="467.76" stroke="#111" stroke-width="1.4"/>
<line x1="630.25" y1="456.36" x2="636.25" y2="456.36" stroke="#111" stroke-width="1.4"/>
<rect x="643.4" y="487.73" width="11.9" height="47.57" fill="#0a0a0a"/>
<line x1="649.35" y1="482.02" x2="649.35" y2="487.73" stroke="#111" stroke-width="1.4"/>
<line x1="646.35" y1="482.02" x2="652.35" y2="482.02" stroke="#111" stroke-width="1.4"/>
<text x="649.35" y="475.22" font-size="10.5" font-weight="normal" text-anchor="middle" fill="#111">#</text>
<text x="641.8" y="548.8" font-size="9.5" font-weight="bold" text-anchor="middle" fill="#111">5</text>
<rect x="671" y="434.44" width="10.1" height="100.86" fill="#fff" stroke="#111" stroke-width="1.8"/>
<rect x="686.2" y="496.85" width="11.9" height="38.45" fill="#0a0a0a"/>
<text x="692.15" y="490.05" font-size="10.5" font-weight="normal" text-anchor="middle" fill="#111">#</text>
<text x="684.6" y="548.8" font-size="9.5" font-weight="bold" text-anchor="middle" fill="#111">10</text>
<polyline points="504.85,470.8 504.85,399.7 609.4,399.7 609.4,411.3" fill="none" stroke="#222" stroke-width="1.4" stroke-linejoin="miter" stroke-linecap="square"/>
<polyline points="547.65,419 547.65,411.3 676.05,411.3 676.05,428" fill="none" stroke="#222" stroke-width="1.4" stroke-linejoin="miter" stroke-linecap="square"/>
<polyline points="590.45,411.3 590.45,430.7" fill="none" stroke="#222" stroke-width="1.4" stroke-linejoin="miter" stroke-linecap="square"/>
<text x="552" y="392.8" font-size="9.5" font-weight="normal" font-style="normal" text-anchor="middle" fill="#111"><tspan font-style="italic">p</tspan> &lt; 0.001</text>
<text x="597.3" y="566.4" font-size="11.5" font-weight="bold" text-anchor="middle" fill="#111">Cordycepin (μM)</text>
<text x="442.3" y="464.2" font-size="11" font-weight="bold" text-anchor="middle" fill="#111" transform="rotate(-90 442.3 464.2)">IL-6 protein</text>
<text x="455.3" y="464.4" font-size="11" font-weight="bold" text-anchor="middle" fill="#111" transform="rotate(-90 455.3 464.4)">(fold change)</text>
<rect x="711.2" y="402.6" width="15.3" height="5.3" rx="0.8" fill="#fff" stroke="#111" stroke-width="1.4"/>
<rect x="710.5" y="414" width="16.7" height="6.7" rx="1.2" fill="#0a0a0a"/>
<text x="735.1" y="408.4" font-size="9" font-weight="bold" text-anchor="start" fill="#111">AG -</text>
<text x="735.1" y="420.5" font-size="9" font-weight="bold" text-anchor="start" fill="#111">AG +</text>
<text x="-0.3" y="18.7" font-size="27.5" font-weight="normal" text-anchor="start" fill="#111" class="nos">A</text>
<text x="0.1" y="368" font-size="27" font-weight="normal" text-anchor="start" fill="#111" class="nos">B</text>
<text x="383.5" y="367.6" font-size="27" font-weight="normal" text-anchor="start" fill="#111" class="nos">C</text>
</svg>
</body></html>
